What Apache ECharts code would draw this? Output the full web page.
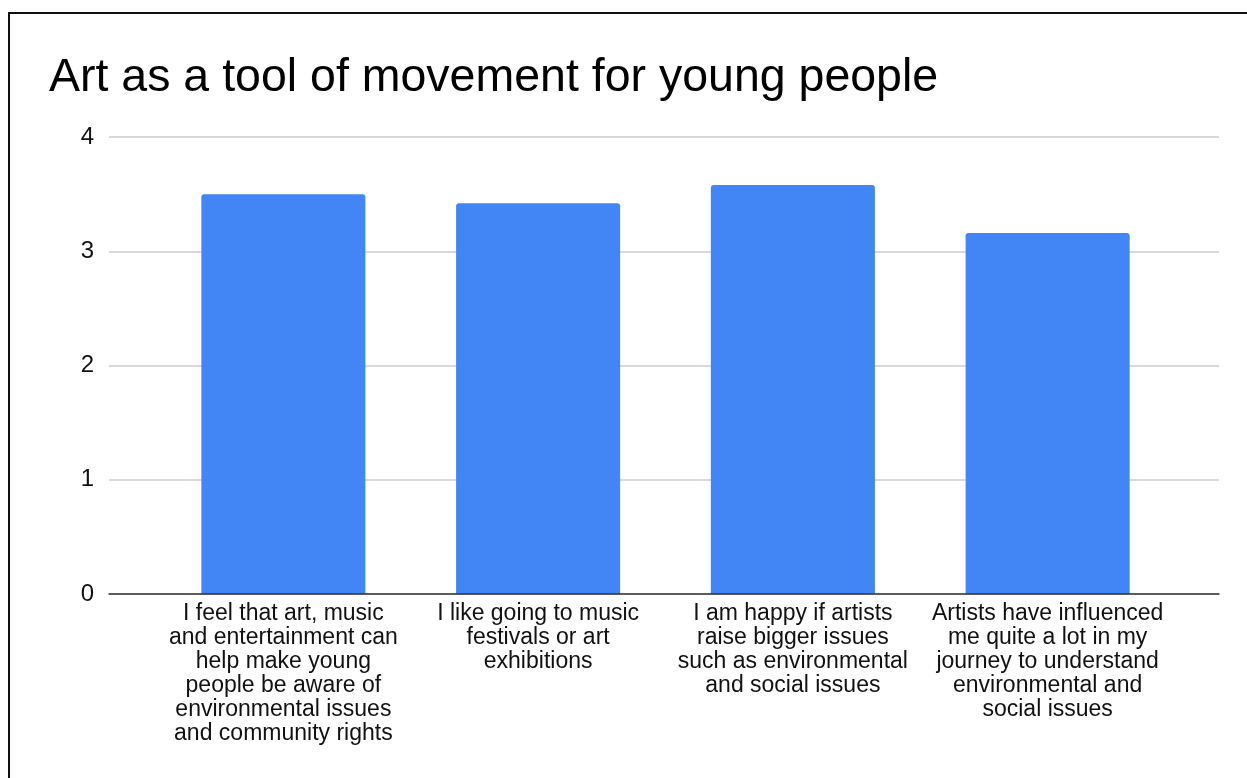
<!DOCTYPE html>
<html>
<head>
<meta charset="utf-8">
<script src="https://cdn.jsdelivr.net/npm/echarts@6/dist/echarts.min.js"></script>
<style>
html,body{margin:0;padding:0;background:#fff;}
#frame{position:absolute;left:8px;top:12px;right:0;bottom:0;border-top:2px solid #111;border-left:2px solid #111;}
#chart{position:absolute;left:0;top:0;width:1247px;height:778px;}
</style>
</head>
<body>
<div id="frame"></div>
<div id="chart"></div>
<script>
const titleText = 'Art as a tool of movement for young people';
const categories = [
  'I feel that art, music\nand entertainment can\nhelp make young\npeople be aware of\nenvironmental issues\nand community rights',
  'I like going to music\nfestivals or art\nexhibitions',
  'I am happy if artists\nraise bigger issues\nsuch as environmental\nand social issues',
  'Artists have influenced\nme quite a lot in my\njourney to understand\nenvironmental and\nsocial issues'
];
const values = [3.50, 3.42, 3.58, 3.16];
const yTicks = [0, 1, 2, 3, 4];

const font = "'Liberation Sans', Arial, Helvetica, sans-serif";
const chart = echarts.init(document.getElementById('chart'), null, {renderer: 'canvas'});
chart.setOption({
  backgroundColor: 'transparent',
  animation: false,
  title: {
    text: titleText,
    left: 44, top: 50,
    textStyle: {fontFamily: font, fontSize: 46.5, fontWeight: 'normal', color: '#000', lineHeight: 46}
  },
  grid: [
    {left: 109, right: 28, top: 137, bottom: 184},
    {left: 156, right: 72, top: 137, bottom: 184}
  ],
  xAxis: [
    {gridIndex: 0, type: 'value', min: 0, max: 1, axisLabel: {show: false}, axisTick: {show: false},
     splitLine: {show: false}, axisLine: {show: true, onZero: false, lineStyle: {color: '#333', width: 1.5}}, z: 5},
    {gridIndex: 1, type: 'category', data: categories, axisLine: {show: false}, axisTick: {show: false},
     axisLabel: {interval: 0, margin: 8, fontFamily: font, fontSize: 23, lineHeight: 24, color: '#111', align: 'center'}}
  ],
  yAxis: [
    {gridIndex: 0, type: 'value', min: yTicks[0], max: yTicks[yTicks.length - 1], interval: 1,
     axisLine: {show: false}, axisTick: {show: false},
     axisLabel: {margin: 15, fontFamily: font, fontSize: 24, color: '#111'},
     splitLine: {show: true, lineStyle: {color: '#cccccc', width: 1.5}}},
    {gridIndex: 1, type: 'value', min: 0, max: 4, interval: 1, show: false, splitLine: {show: false}}
  ],
  series: [{
    type: 'bar',
    xAxisIndex: 1, yAxisIndex: 1,
    data: values,
    barCategoryGap: '35.6%',
    itemStyle: {color: '#4285F4', borderRadius: [3, 3, 0, 0]},
    z: 3
  }]
});
</script>
</body>
</html>
